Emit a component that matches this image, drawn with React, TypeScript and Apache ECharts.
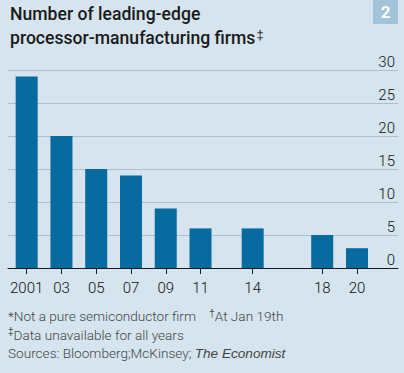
import React, { useEffect, useRef } from "react";
import * as echarts from "echarts";

const years = [2001, 2003, 2005, 2007, 2009, 2011, 2014, 2018, 2020];
const firms = [29, 20, 15, 14, 9, 6, 6, 5, 3];
const yearLabels = ["2001", "03", "05", "07", "09", "11", "14", "18", "20"];
const yTicks = [0, 5, 10, 15, 20, 25, 30];

export default function App() {
  const ref = useRef<HTMLDivElement>(null);
  useEffect(() => {
    const chart = echarts.init(ref.current!, null, { renderer: "svg" });
    const font = "Roboto";
    chart.setOption({
      animation: false,
      backgroundColor: "#d5e4ee",
      grid: { left: 8, right: 6, top: 70, bottom: 105 },
      xAxis: {
        type: "value",
        min: 1999.925,
        max: 2022.36,
        splitLine: { show: false },
        axisLine: { show: true, lineStyle: { color: "#1a1a1a", width: 1 } },
        axisTick: {
          show: true,
          customValues: years,
          length: 6,
          lineStyle: { color: "#1a1a1a", width: 1 },
        },
        axisLabel: {
          customValues: years,
          formatter: (v: number) => yearLabels[years.indexOf(Math.round(v))] ?? "",
          fontFamily: font,
          fontSize: 15,
          fontWeight: 300,
          color: "#111111",
          margin: 12,
        },
      },
      yAxis: {
        type: "value",
        position: "right",
        min: 0,
        max: 30,
        interval: 5,
        axisLine: { show: false },
        axisTick: { show: false },
        splitLine: { show: true, lineStyle: { color: "#a9c1d0", width: 1 } },
        axisLabel: {
          inside: true,
          margin: 3,
          verticalAlign: "bottom",
          padding: [0, 0, 1, 0],
          fontFamily: font,
          fontSize: 15,
          fontWeight: 300,
          color: "#111111",
          formatter: (v: number) => (yTicks.includes(v) ? String(v) : ""),
        },
      },
      series: [
        {
          type: "bar",
          data: years.map((y, i) => [y, firms[i]]),
          barWidth: 22,
          itemStyle: { color: "#076ba0" },
          z: 3,
        },
      ],
      graphic: [
        {
          type: "text",
          left: 10,
          top: 2,
          style: {
            text: "Number of leading-edge\nprocessor-manufacturing firms{sup|‡}",
            fontFamily: font,
            fontSize: 17.6,
            fontWeight: 500,
            lineHeight: 24,
            fill: "#1a1a1a",
            rich: {
              sup: { fontSize: 13, fontWeight: 500, padding: [0, 0, 7, 1], fill: "#1a1a1a" },
            },
          },
        },
        {
          type: "rect",
          shape: { x: 373, y: 0, width: 25, height: 24 },
          style: { fill: "#a3c3d8" },
        },
        {
          type: "text",
          x: 385.5,
          y: 12,
          style: {
            text: "2",
            fontFamily: font,
            fontSize: 17,
            fontWeight: "bold",
            fill: "#ffffff",
            align: "center",
            verticalAlign: "middle",
          },
        },
        {
          type: "text",
          left: 8,
          top: 307,
          style: {
            text:
              "*Not a pure semiconductor firm    {sup|†}At Jan 19th\n{sup|‡}Data unavailable for all years\nSources: Bloomberg;McKinsey; {it|The Economist}",
            fontFamily: font,
            fontSize: 13.6,
            fontWeight: 300,
            lineHeight: 18.5,
            fill: "#454545",
            rich: {
              sup: { fontSize: 10, fontWeight: 300, fill: "#454545", padding: [0, 0, 6, 0] },
              it: { fontStyle: "italic", fontSize: 13.6, fontWeight: 300, fill: "#454545" },
            },
          },
        },
      ],
    });
    return () => chart.dispose();
  }, []);
  return <div ref={ref} style={{ width: 404, height: 373, position: "absolute", left: 0, top: 0 }} />;
}
